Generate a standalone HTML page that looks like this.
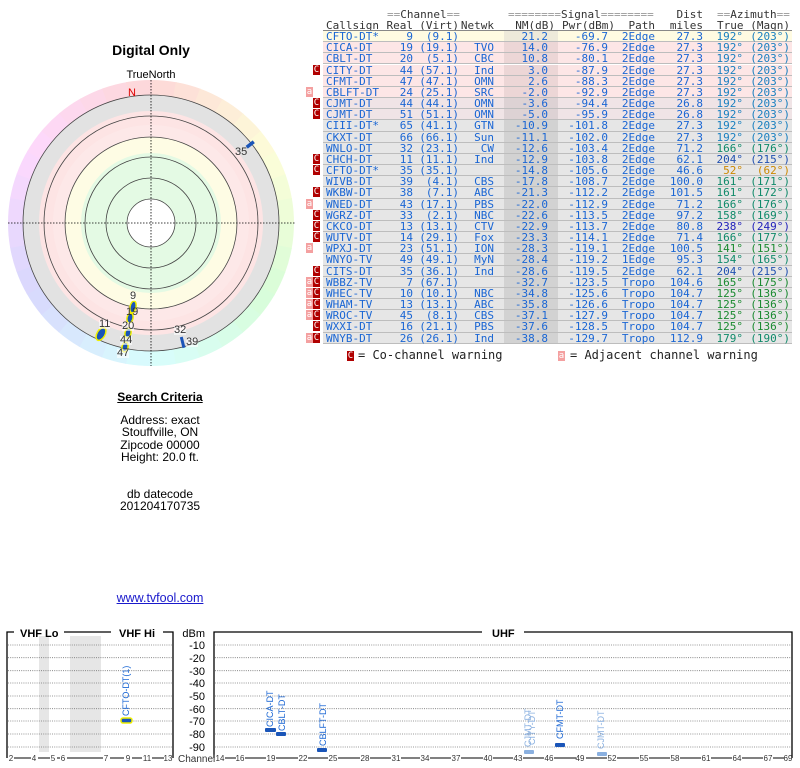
<!DOCTYPE html>
<html><head><meta charset="utf-8">
<style>
*{margin:0;padding:0;box-sizing:border-box}
body{width:800px;height:768px;background:#fff;position:relative;overflow:hidden;font-family:"Liberation Sans",Arial,sans-serif}
.a{position:absolute;white-space:pre}
.m{font-family:"DejaVu Sans Mono","Liberation Mono",monospace;font-size:11px;line-height:11px}
.r{text-align:right}
.b{color:#1a66d4}
.g{color:#999}
.h{color:#333}
.cw{position:absolute;width:7px;height:10px;background:#b00000;color:#fff;font-family:"DejaVu Sans Mono",monospace;font-size:9px;line-height:10px;text-align:center}
.aw{position:absolute;width:7px;height:10px;background:#f4a0a0;color:#fff;font-family:"DejaVu Sans Mono",monospace;font-size:9px;line-height:10px;text-align:center}
.sl{position:absolute;font-size:9px;color:#333;font-family:"Liberation Sans",sans-serif;line-height:9px}
.vt{position:absolute;font-size:9px;color:#1a66d4;transform:rotate(-90deg);transform-origin:0 0;white-space:nowrap;line-height:9px}
</style></head><body>

<div class="a" style="left:0;width:302px;top:42px;text-align:center;font-weight:bold;font-size:14px">Digital Only</div>
<div class="a" style="left:0;width:302px;top:69px;text-align:center;font-size:11px">TrueNorth</div>
<svg class="a" style="left:0;top:0" width="310" height="380">
<g id="wheel"></g>
<circle cx="151" cy="223" r="128" fill="#e2e2e2"/>
<circle cx="151" cy="223" r="112" fill="#fde4e4"/>
<circle cx="151" cy="223" r="98" fill="#fde8e8"/>
<circle cx="151" cy="223" r="86" fill="#fefce4"/>
<circle cx="151" cy="223" r="70" fill="#e4fae4"/>
<circle cx="151" cy="223" r="24" fill="#fff"/>
<g fill="none" stroke="#444" stroke-width="0.8">
<circle cx="151" cy="223" r="128"/><circle cx="151" cy="223" r="107"/><circle cx="151" cy="223" r="86"/><circle cx="151" cy="223" r="66"/><circle cx="151" cy="223" r="45"/><circle cx="151" cy="223" r="24"/>
</g>
<line x1="8" y1="223" x2="296" y2="223" stroke="#000" stroke-width="0.8" stroke-dasharray="1.5,1.5"/>
<line x1="151" y1="80" x2="151" y2="366" stroke="#000" stroke-width="0.8" stroke-dasharray="1.5,1.5"/>
<text x="128" y="96" font-size="11" fill="#d00" font-family="Liberation Sans">N</text>
<rect x="246" y="143" width="9" height="3.5" fill="#1a55b8" transform="rotate(-38 250 145)"/>
<g fill="#1a55b8" stroke="#ee0" stroke-width="1.5">
<ellipse cx="133" cy="307" rx="3" ry="6" transform="rotate(12 133 307)"/>
<ellipse cx="130" cy="318" rx="3" ry="5" transform="rotate(12 130 318)"/>
<ellipse cx="128" cy="333" rx="3" ry="5" transform="rotate(12 128 333)"/>
<ellipse cx="101" cy="334" rx="4" ry="7" transform="rotate(30 101 334)"/>
<ellipse cx="125" cy="347" rx="3" ry="5" transform="rotate(12 125 347)"/>
</g>
<rect x="181" y="337" width="3" height="11" fill="#1a55b8" transform="rotate(-14 182 342)"/>
</svg>
<div class="sl b" style="left:235px;top:148px;font-size:11px">35</div>
<div class="sl b" style="left:130px;top:292px;font-size:11px;background:rgba(255,255,255,.6)">9</div>
<div class="sl b" style="left:126px;top:308px;font-size:11px">19</div>
<div class="sl b" style="left:122px;top:322px;font-size:11px;background:rgba(255,255,255,.6)">20</div>
<div class="sl b" style="left:99px;top:320px;font-size:11px;background:rgba(255,255,255,.6)">11</div>
<div class="sl b" style="left:120px;top:336px;font-size:11px;background:rgba(255,255,255,.6)">44</div>
<div class="sl b" style="left:117px;top:349px;font-size:11px;background:rgba(255,255,255,.6)">47</div>
<div class="sl b" style="left:174px;top:326px;font-size:11px;background:rgba(255,255,255,.6)">32</div>
<div class="sl b" style="left:186px;top:338px;font-size:11px;background:rgba(255,255,255,.6)">39</div>

<div class="a" style="left:60px;width:200px;top:390px;text-align:center;font-weight:bold;font-size:12px;text-decoration:underline">Search Criteria</div>
<div class="a" style="left:60px;width:200px;top:414px;text-align:center;font-size:12px;line-height:12.3px">Address: exact
Stouffville, ON
Zipcode 00000
Height: 20.0 ft.


db datecode
201204170735</div>
<div class="a" style="left:60px;width:200px;top:591px;text-align:center;font-size:12.5px;color:#1a1acc;text-decoration:underline">www.tvfool.com</div>

<div id="tbl"></div>

<svg class="a" style="left:0;top:620px" width="800" height="148" font-family="Liberation Sans">
<rect x="39" y="16" width="10" height="116" fill="#e6e6e6"/>
<rect x="70" y="16" width="31" height="116" fill="#e6e6e6"/>
<g stroke="#777" stroke-width="0.8" stroke-dasharray="1,1.2">
<path d="M8 25H172M8 37.7H172M8 50.7H172M8 63H172M8 76H172M8 88.7H172M8 101H172M8 114H172M8 127H172"/>
<path d="M215 25H791M215 37.7H791M215 50.7H791M215 63H791M215 76H791M215 88.7H791M215 101H791M215 114H791M215 127H791"/>
</g>
<g stroke="#000" stroke-width="1.3" fill="none">
<path d="M7 138V12H14M64 12H111M163 12H173V138"/>
<path d="M214 138V12H482M524 12H792V138"/>
</g>
<g stroke="#000" stroke-width="1">
<path d="M14 138H31M38 138H50M57 138H60M67 138H103M110 138H124M132 138H142M152 138H164"/>
<path d="M225 138H236M245 138H266M276 138H298M308 138H328M338 138H360M370 138H391M401 138H420M430 138H451M461 138H483M493 138H513M523 138H544M554 138H576M586 138H607M617 138H639M649 138H670M680 138H701M711 138H732M742 138H763M773 138H784"/>
</g>
<g font-size="8" fill="#333" text-anchor="middle">
<text x="11" y="141">2</text><text x="34" y="141">4</text><text x="53" y="141">5</text><text x="63" y="141">6</text><text x="106" y="141">7</text><text x="128" y="141">9</text><text x="147" y="141">11</text><text x="168" y="141">13</text>
<text x="220" y="141">14</text><text x="240" y="141">16</text><text x="271" y="141">19</text><text x="303" y="141">22</text><text x="333" y="141">25</text><text x="365" y="141">28</text><text x="396" y="141">31</text><text x="425" y="141">34</text><text x="456" y="141">37</text><text x="488" y="141">40</text><text x="518" y="141">43</text><text x="549" y="141">46</text><text x="580" y="141">49</text><text x="612" y="141">52</text><text x="644" y="141">55</text><text x="675" y="141">58</text><text x="706" y="141">61</text><text x="737" y="141">64</text><text x="768" y="141">67</text><text x="788" y="141">69</text>
</g>
<text x="178" y="142" font-size="10" fill="#333">Channel</text>
<g font-size="11" font-weight="bold" fill="#000">
<text x="20" y="17">VHF Lo</text><text x="119" y="17">VHF Hi</text><text x="492" y="17">UHF</text>
</g>
<g font-size="11" fill="#000" text-anchor="end">
<text x="205" y="17">dBm</text><text x="205" y="29">-10</text><text x="205" y="42">-20</text><text x="205" y="55">-30</text><text x="205" y="67">-40</text><text x="205" y="80">-50</text><text x="205" y="93">-60</text><text x="205" y="105">-70</text><text x="205" y="118">-80</text><text x="205" y="131">-90</text>
</g>
<rect x="121" y="98" width="11" height="5" rx="2" fill="#1a55b8" stroke="#ee0" stroke-width="1.5"/>
<rect x="265" y="108" width="11" height="4" rx="1" fill="#1a55b8"/>
<rect x="276" y="112" width="10" height="4" rx="1" fill="#1a55b8"/>
<rect x="317" y="128" width="10" height="4" rx="1" fill="#1a55b8"/>
<rect x="524" y="130" width="10" height="4" rx="1" fill="#8ab0e0"/>
<rect x="555" y="123" width="10" height="4" rx="1" fill="#1a55b8"/>
<rect x="597" y="132" width="10" height="4" rx="1" fill="#8ab0e0"/>
</svg>
<div class="vt" style="left:122px;top:716px">CFTO-DT(1)</div>
<div class="vt" style="left:266px;top:727px">CICA-DT</div>
<div class="vt" style="left:278px;top:731px">CBLT-DT</div>
<div class="vt" style="left:319px;top:746px">CBLFT-DT</div>
<div class="vt" style="left:524px;top:747px;color:#8ab0e0">CJMT-DT</div>
<div class="vt" style="left:528px;top:745px;color:#8ab0e0">CITY-DT</div>
<div class="vt" style="left:556px;top:739px">CFMT-DT</div>
<div class="vt" style="left:597px;top:749px;color:#8ab0e0">CJMT-DT</div>

<script>
(function(){
 var g=document.getElementById('wheel'),s='',cx=151,cy=223,R=143,r=120;
 for(var i=0;i<36;i++){
  var a0=(i*10-90)*Math.PI/180,a1=((i+1)*10-90+0.5)*Math.PI/180;
  var p=function(rr,a){return (cx+rr*Math.cos(a)).toFixed(2)+' '+(cy+rr*Math.sin(a)).toFixed(2);};
  var hue=(i*10+5)%360;
  s+='<path d="M'+p(r,a0)+' L'+p(R,a0)+' A'+R+' '+R+' 0 0 1 '+p(R,a1)+' L'+p(r,a1)+' A'+r+' '+r+' 0 0 0 '+p(r,a0)+'Z" fill="hsl('+hue+',90%,92%)"/>';
 }
 g.innerHTML=s;
})();
var rows=[
['','CFTO-DT*','9','(9.1)','','21.2','-69.7','2Edge','27.3','192°','(203°)','y'],
['','CICA-DT','19','(19.1)','TVO','14.0','-76.9','2Edge','27.3','192°','(203°)','p'],
['','CBLT-DT','20','(5.1)','CBC','10.8','-80.1','2Edge','27.3','192°','(203°)','p'],
['C','CITY-DT','44','(57.1)','Ind','3.0','-87.9','2Edge','27.3','192°','(203°)','p'],
['','CFMT-DT','47','(47.1)','OMN','2.6','-88.3','2Edge','27.3','192°','(203°)','p'],
['a','CBLFT-DT','24','(25.1)','SRC','-2.0','-92.9','2Edge','27.3','192°','(203°)','p'],
['C','CJMT-DT','44','(44.1)','OMN','-3.6','-94.4','2Edge','26.8','192°','(203°)','q'],
['C','CJMT-DT','51','(51.1)','OMN','-5.0','-95.9','2Edge','26.8','192°','(203°)','q'],
['','CIII-DT*','65','(41.1)','GTN','-10.9','-101.8','2Edge','27.3','192°','(203°)','g'],
['','CKXT-DT','66','(66.1)','Sun','-11.1','-102.0','2Edge','27.3','192°','(203°)','g'],
['','WNLO-DT','32','(23.1)','CW','-12.6','-103.4','2Edge','71.2','166°','(176°)','g'],
['C','CHCH-DT','11','(11.1)','Ind','-12.9','-103.8','2Edge','62.1','204°','(215°)','g'],
['C','CFTO-DT*','35','(35.1)','','-14.8','-105.6','2Edge','46.6','52°','(62°)','g'],
['','WIVB-DT','39','(4.1)','CBS','-17.8','-108.7','2Edge','100.0','161°','(171°)','g'],
['C','WKBW-DT','38','(7.1)','ABC','-21.3','-112.2','2Edge','101.5','161°','(172°)','g'],
['a','WNED-DT','43','(17.1)','PBS','-22.0','-112.9','2Edge','71.2','166°','(176°)','g'],
['C','WGRZ-DT','33','(2.1)','NBC','-22.6','-113.5','2Edge','97.2','158°','(169°)','g'],
['C','CKCO-DT','13','(13.1)','CTV','-22.9','-113.7','2Edge','80.8','238°','(249°)','g'],
['C','WUTV-DT','14','(29.1)','Fox','-23.3','-114.1','2Edge','71.4','166°','(177°)','g'],
['a','WPXJ-DT','23','(51.1)','ION','-28.3','-119.1','2Edge','100.5','141°','(151°)','g'],
['','WNYO-TV','49','(49.1)','MyN','-28.4','-119.2','1Edge','95.3','154°','(165°)','g'],
['C','CITS-DT','35','(36.1)','Ind','-28.6','-119.5','2Edge','62.1','204°','(215°)','g'],
['aC','WBBZ-TV','7','(67.1)','','-32.7','-123.5','Tropo','104.6','165°','(175°)','g'],
['aC','WHEC-TV','10','(10.1)','NBC','-34.8','-125.6','Tropo','104.7','125°','(136°)','g'],
['aC','WHAM-TV','13','(13.1)','ABC','-35.8','-126.6','Tropo','104.7','125°','(136°)','g'],
['aC','WROC-TV','45','(8.1)','CBS','-37.1','-127.9','Tropo','104.7','125°','(136°)','g'],
['C','WXXI-DT','16','(21.1)','PBS','-37.6','-128.5','Tropo','104.7','125°','(136°)','g'],
['aC','WNYB-DT','26','(26.1)','Ind','-38.8','-129.7','Tropo','112.9','179°','(190°)','g']];
var az={'192°':'#1a80c0','166°':'#108a6a','204°':'#2050b0','52°':'#cc8800','161°':'#108a6a','158°':'#108a6a','238°':'#2222bb','141°':'#1a8a30','154°':'#108a6a','165°':'#1a8a30','125°':'#1a8a30','179°':'#108a6a'};
var bg={y:['#fffbe2','#eeeada'],p:['#fde6e6','#ecd6d6'],q:['#f0e4e6','#ddd2d4'],g:['#e6e6e6','#d2d2d2']};
var h='',RH=11.17,T=31;
h+='<div class="a m" style="left:387px;top:9px"><span class="g">==</span><span class="h">Channel</span><span class="g">==</span></div>';
h+='<div class="a m" style="left:508px;top:9px"><span class="g">========</span><span class="h">Signal</span><span class="g">========</span></div>';
h+='<div class="a m r h" style="left:653px;width:50px;top:9px">Dist</div>';
h+='<div class="a m" style="left:717px;top:9px"><span class="g">==</span><span class="h">Azimuth</span><span class="g">==</span></div>';
var hd=[[326,'Callsign','l'],[413,'Real','r'],[459,'(Virt)','r'],[494,'Netwk','r'],[555,'NM(dB)','r'],[615,'Pwr(dBm)','r'],[655,'Path','r'],[703,'miles','r'],[717,'True','l'],[790,'(Magn)','r']];
hd.forEach(function(c){h+= c[2]=='l'?'<div class="a m h" style="left:'+c[0]+'px;top:20px">'+c[1]+'</div>':'<div class="a m r h" style="left:'+(c[0]-80)+'px;width:80px;top:20px">'+c[1]+'</div>';});
h+='<div class="a" style="left:323px;top:30px;width:469px;height:1px;background:#888"></div>';
rows.forEach(function(r,i){
 var y=T+i*RH,c=bg[r[11]];
 h+='<div class="a" style="left:323px;top:'+y+'px;width:469px;height:'+RH+'px;background:'+c[0]+';border-bottom:1px solid #bdbdbd"></div>';
 h+='<div class="a" style="left:504px;top:'+y+'px;width:54px;height:'+(RH-1)+'px;background:'+c[1]+'"></div>';
 var ty=y;
 if(r[0].indexOf('a')>=0)h+='<div class="aw" style="left:306px;top:'+ty+'px">a</div>';
 if(r[0].indexOf('C')>=0)h+='<div class="cw" style="left:313px;top:'+ty+'px">C</div>';
 h+='<div class="a m b" style="left:326px;top:'+ty+'px">'+r[1]+'</div>';
 var rc=[[413,r[2]],[459,r[3]],[494,r[4]],[548,r[5]],[608,r[6]],[655,r[7]],[703,r[8]]];
 rc.forEach(function(c){h+='<div class="a m r b" style="left:'+(c[0]-70)+'px;width:70px;top:'+ty+'px">'+c[1]+'</div>';});
 var col=az[r[9]]||'#1a80c0';
 h+='<div class="a m r" style="left:693px;width:50px;top:'+ty+'px;color:'+col+'">'+r[9]+'</div>';
 h+='<div class="a m r" style="left:720px;width:70px;top:'+ty+'px;color:'+col+'">'+r[10]+'</div>';
});
h+='<div class="cw" style="left:347px;top:351px">C</div><div class="a m" style="left:358px;top:350px;font-size:12px;color:#222">= Co-channel warning</div>';
h+='<div class="aw" style="left:558px;top:351px">a</div><div class="a m" style="left:570px;top:350px;font-size:12px;color:#222">= Adjacent channel warning</div>';
document.getElementById('tbl').innerHTML=h;
</script>
</body></html>
